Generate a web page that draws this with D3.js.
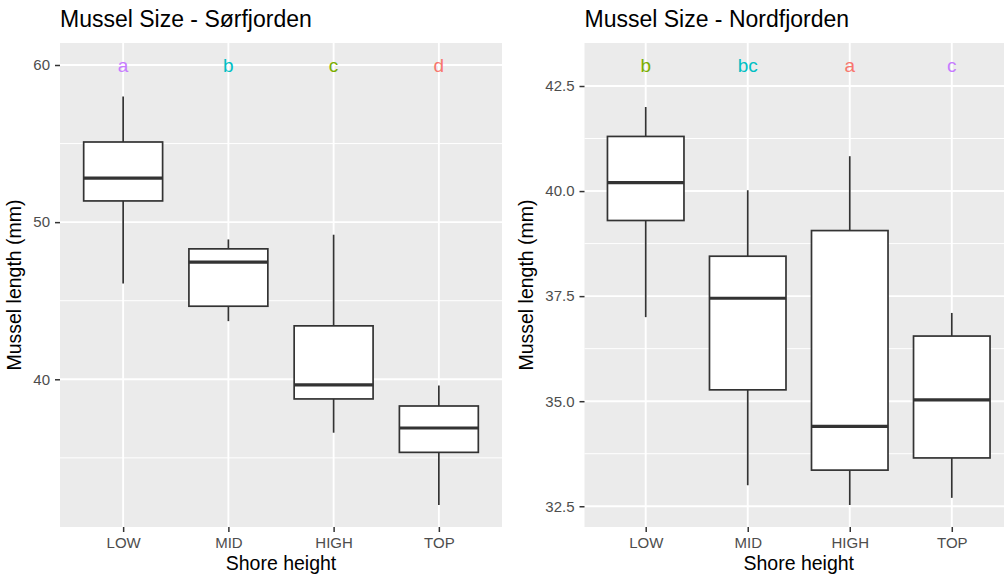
<!DOCTYPE html>
<html>
<head>
<meta charset="utf-8">
<script src="https://cdn.jsdelivr.net/npm/d3@7"></script>
<style>
  body { margin: 0; background: #fff; }
  svg text { font-family: "Liberation Sans", Arial, Helvetica, sans-serif; }
</style>
</head>
<body>
<div id="chart"></div>
<script>
// shore height groups, same order on both panels
const shoreHeights = ['LOW', 'MID', 'HIGH', 'TOP'];

// five-number summaries: [lower whisker, Q1, median, Q3, upper whisker]
const sorfjordenStats = [
  [46.1, 51.35, 52.8, 55.1, 58.0],
  [43.7, 44.65, 47.45, 48.3, 48.9],
  [36.6, 38.75, 39.65, 43.4, 49.2],
  [32.0, 35.35, 36.9, 38.3, 39.6]
];
const nordfjordenStats = [
  [37.0, 39.3, 40.2, 41.3, 42.0],
  [33.0, 35.27, 37.45, 38.45, 40.02],
  [32.53, 33.36, 34.4, 39.06, 40.83],
  [32.7, 33.65, 35.03, 36.55, 37.1]
];

// compact letter display
const sorfjordenLetters = ['a', 'b', 'c', 'd'];
const nordfjordenLetters = ['b', 'bc', 'a', 'c'];
const sorfjordenLetterY = 60;
const nordfjordenLetterY = 43;

const letterColors = { a: '#C77CFF', b: '#00BFC4', c: '#7CAE00', d: '#F8766D' };
const nordLetterColors = { b: '#7CAE00', bc: '#00BFC4', a: '#F8766D', c: '#C77CFF' };

const sorfjordenTicks = [40, 50, 60];
const sorfjordenMinor = [35, 45, 55];
const nordfjordenTicks = [32.5, 35, 37.5, 40, 42.5];
const nordfjordenMinor = [33.75, 36.25, 38.75, 41.25];

const config = {
  width: 1004,
  height: 574,
  panelTop: 43,
  panelBottom: 527,
  panelBg: '#EBEBEB',
  boxStroke: '#333333'
};

const svg = d3.select('#chart')
  .append('svg')
  .attr('width', config.width)
  .attr('height', config.height);

function drawPanel(opts) {
  const { x0, x1, title, stats, letters, letterY, colors, ticks, minor, fmt, yTitleX } = opts;
  const { panelTop, panelBottom } = config;

  const scaleX = d3.scalePoint()
    .domain(shoreHeights)
    .range([x0, x1])
    .padding(0.6);

  // ggplot style 5% expansion on the data + letter range
  const lo = d3.min(stats, d => d[0]);
  const hi = Math.max(d3.max(stats, d => d[4]), letterY);
  const pad = (hi - lo) * 0.05;
  const scaleY = d3.scaleLinear()
    .domain([lo - pad, hi + pad])
    .range([panelBottom, panelTop]);

  const g = svg.append('g');

  // panel background
  g.append('rect')
    .attr('x', x0)
    .attr('y', panelTop)
    .attr('width', x1 - x0)
    .attr('height', panelBottom - panelTop)
    .attr('fill', config.panelBg);

  // minor grid
  g.selectAll('.grid-minor')
    .data(minor)
    .join('line')
    .attr('class', 'grid-minor')
    .attr('x1', x0)
    .attr('x2', x1)
    .attr('y1', d => scaleY(d))
    .attr('y2', d => scaleY(d))
    .attr('stroke', '#fff')
    .attr('stroke-width', 1);

  // major grid
  g.selectAll('.grid-major-y')
    .data(ticks)
    .join('line')
    .attr('class', 'grid-major-y')
    .attr('x1', x0)
    .attr('x2', x1)
    .attr('y1', d => scaleY(d))
    .attr('y2', d => scaleY(d))
    .attr('stroke', '#fff')
    .attr('stroke-width', 1.9);

  g.selectAll('.grid-major-x')
    .data(shoreHeights)
    .join('line')
    .attr('class', 'grid-major-x')
    .attr('x1', d => scaleX(d))
    .attr('x2', d => scaleX(d))
    .attr('y1', panelTop)
    .attr('y2', panelBottom)
    .attr('stroke', '#fff')
    .attr('stroke-width', 1.9);

  // boxplots
  const boxW = scaleX.step() * 0.75;
  const boxes = g.selectAll('.box')
    .data(stats.map((s, i) => ({ cat: shoreHeights[i], s })))
    .join('g')
    .attr('class', 'box');

  boxes.append('line')
    .attr('x1', d => scaleX(d.cat))
    .attr('x2', d => scaleX(d.cat))
    .attr('y1', d => scaleY(d.s[0]))
    .attr('y2', d => scaleY(d.s[1]))
    .attr('stroke', config.boxStroke)
    .attr('stroke-width', 1.7);

  boxes.append('line')
    .attr('x1', d => scaleX(d.cat))
    .attr('x2', d => scaleX(d.cat))
    .attr('y1', d => scaleY(d.s[3]))
    .attr('y2', d => scaleY(d.s[4]))
    .attr('stroke', config.boxStroke)
    .attr('stroke-width', 1.7);

  boxes.append('rect')
    .attr('x', d => scaleX(d.cat) - boxW / 2)
    .attr('y', d => scaleY(d.s[3]))
    .attr('width', boxW)
    .attr('height', d => scaleY(d.s[1]) - scaleY(d.s[3]))
    .attr('fill', '#fff')
    .attr('stroke', config.boxStroke)
    .attr('stroke-width', 1.7);

  boxes.append('line')
    .attr('x1', d => scaleX(d.cat) - boxW / 2)
    .attr('x2', d => scaleX(d.cat) + boxW / 2)
    .attr('y1', d => scaleY(d.s[2]))
    .attr('y2', d => scaleY(d.s[2]))
    .attr('stroke', config.boxStroke)
    .attr('stroke-width', 3.2);

  // significance letters
  g.selectAll('.letter')
    .data(letters.map((l, i) => ({ cat: shoreHeights[i], l })))
    .join('text')
    .attr('class', 'letter')
    .attr('x', d => scaleX(d.cat))
    .attr('y', scaleY(letterY))
    .attr('dy', '0.35em')
    .attr('text-anchor', 'middle')
    .style('font-size', '19px')
    .attr('fill', d => colors[d.l])
    .text(d => d.l);

  // axes
  const axisY = d3.axisLeft(scaleY)
    .tickValues(ticks)
    .tickSize(5)
    .tickPadding(5)
    .tickFormat(fmt);
  const yG = g.append('g')
    .attr('transform', `translate(${x0},0)`)
    .call(axisY);

  const axisX = d3.axisBottom(scaleX)
    .tickSize(5)
    .tickPadding(5.5);
  const xG = g.append('g')
    .attr('transform', `translate(0,${panelBottom})`)
    .call(axisX);

  [yG, xG].forEach(ax => {
    ax.select('.domain').remove();
    ax.selectAll('.tick line').attr('stroke', '#333333').attr('stroke-width', 1.5);
    ax.selectAll('.tick text')
      .attr('fill', '#4D4D4D')
      .style('font-size', '15px')
      .style('font-family', '"Liberation Sans", Arial, Helvetica, sans-serif');
  });

  // titles
  g.append('text')
    .attr('x', x0)
    .attr('y', 27)
    .style('font-size', '23px')
    .attr('fill', '#000')
    .text(title);

  g.append('text')
    .attr('x', (x0 + x1) / 2)
    .attr('y', 570)
    .attr('text-anchor', 'middle')
    .style('font-size', '19.5px')
    .attr('fill', '#000')
    .text('Shore height');

  g.append('text')
    .attr('transform', `translate(${yTitleX},${(panelTop + panelBottom) / 2}) rotate(-90)`)
    .attr('text-anchor', 'middle')
    .style('font-size', '19.5px')
    .attr('fill', '#000')
    .text('Mussel length (mm)');
}

drawPanel({
  x0: 60, x1: 502,
  title: 'Mussel Size - Sørfjorden',
  stats: sorfjordenStats,
  letters: sorfjordenLetters,
  letterY: sorfjordenLetterY,
  colors: letterColors,
  ticks: sorfjordenTicks,
  minor: sorfjordenMinor,
  fmt: d3.format('d'),
  yTitleX: 21
});

drawPanel({
  x0: 584.5, x1: 1013,
  title: 'Mussel Size - Nordfjorden',
  stats: nordfjordenStats,
  letters: nordfjordenLetters,
  letterY: nordfjordenLetterY,
  colors: nordLetterColors,
  ticks: nordfjordenTicks,
  minor: nordfjordenMinor,
  fmt: d3.format('.1f'),
  yTitleX: 533
});
</script>
</body>
</html>
